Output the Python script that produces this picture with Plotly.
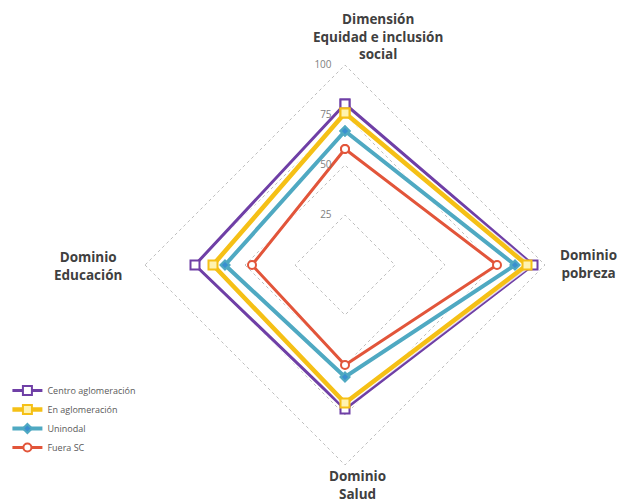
import plotly.graph_objects as go

# Axes of the index (clockwise from the top)
categories = [
    "Dimensión Equidad e inclusión social",
    "Dominio pobreza",
    "Dominio Salud",
    "Dominio Educación",
]

series_names = ["Centro aglomeración", "En aglomeración", "Uninodal", "Fuera SC"]
centro = [80.5, 94, 72, 75]
en_aglomeracion = [76, 91, 69, 66]
uninodal = [67, 85, 56, 60]
fuera_sc = [58, 76, 50, 46.5]

radial_ticks = [25, 50, 75, 100]
# trailing transparent padding nudges each label to the left of the axis
radial_ticktext = [f'{v}<span style="color:rgba(0,0,0,0)">00</span>' for v in radial_ticks]

styles = [
    dict(color="#6F3FA6", width=3, symbol="square", msize=9, fill="white"),
    dict(color="#F5C016", width=4.5, symbol="square", msize=9, fill="#FFF3B0"),
    dict(color="#4FA9C2", width=4, symbol="diamond", msize=7, fill="#3A8FD0"),
    dict(color="#E2553A", width=3, symbol="circle", msize=8, fill="white"),
]

fig = go.Figure()

all_values = [centro, en_aglomeracion, uninodal, fuera_sc]
theta_closed = categories + categories[:1]

for name, vals, st in zip(series_names, all_values, styles):
    r_closed = vals + vals[:1]
    # soft white halo under each line
    fig.add_trace(go.Scatterpolar(
        r=r_closed, theta=theta_closed, mode="lines",
        line=dict(color="rgba(255,255,255,0.8)", width=st["width"] + 3),
        showlegend=False, hoverinfo="skip",
    ))
    fig.add_trace(go.Scatterpolar(
        r=r_closed, theta=theta_closed, mode="lines+markers", name=name,
        line=dict(color=st["color"], width=st["width"]),
        marker=dict(symbol=st["symbol"], size=st["msize"], color=st["fill"],
                    line=dict(color=st["color"], width=2)),
    ))

W, H = 618, 504
cx, cy = 345, 265
r_max = 101
rad = 200 * r_max / 100

fig.update_layout(
    width=W, height=H,
    margin=dict(l=0, r=0, t=0, b=0),
    paper_bgcolor="white",
    plot_bgcolor="white",
    font=dict(family="Open Sans, sans-serif", color="#404040"),
    polar=dict(
        domain=dict(x=[(cx - rad) / W, (cx + rad) / W],
                    y=[(H - cy - rad) / H, (H - cy + rad) / H]),
        gridshape="linear",
        bgcolor="white",
        radialaxis=dict(
            range=[0, r_max], tickvals=radial_ticks, ticktext=radial_ticktext,
            angle=90, tickangle=90, side="counterclockwise",
            showline=False, ticks="", gridcolor="#BFBFBF", griddash="dot",
            gridwidth=1, tickfont=dict(size=10, color="#808080"),
        ),
        angularaxis=dict(
            rotation=90, direction="clockwise", showgrid=False,
            showticklabels=False, ticks="", showline=False,
        ),
    ),
    legend=dict(
        x=0.012, y=(H - 376) / H, xanchor="left", yanchor="top",
        font=dict(size=9, color="#595959"), tracegroupgap=0,
        itemwidth=30, bgcolor="rgba(0,0,0,0)",
    ),
    showlegend=True,
)

label_font = dict(size=13.5, color="#404040", family="Open Sans, sans-serif")
labels = [
    ("<b>Dimensión<br>Equidad e inclusión<br>social</b>", 378, 37),
    ("<b>Dominio<br>pobreza</b>", 588, 264),
    ("<b>Dominio<br>Salud</b>", 357, 485),
    ("<b>Dominio<br>Educación</b>", 88, 266),
]
for text, x, y in labels:
    fig.add_annotation(text=text, x=x / W, y=(H - y) / H, xref="paper", yref="paper",
                       showarrow=False, xanchor="center", yanchor="middle",
                       font=label_font, align="center")

fig.write_html("out.html")
